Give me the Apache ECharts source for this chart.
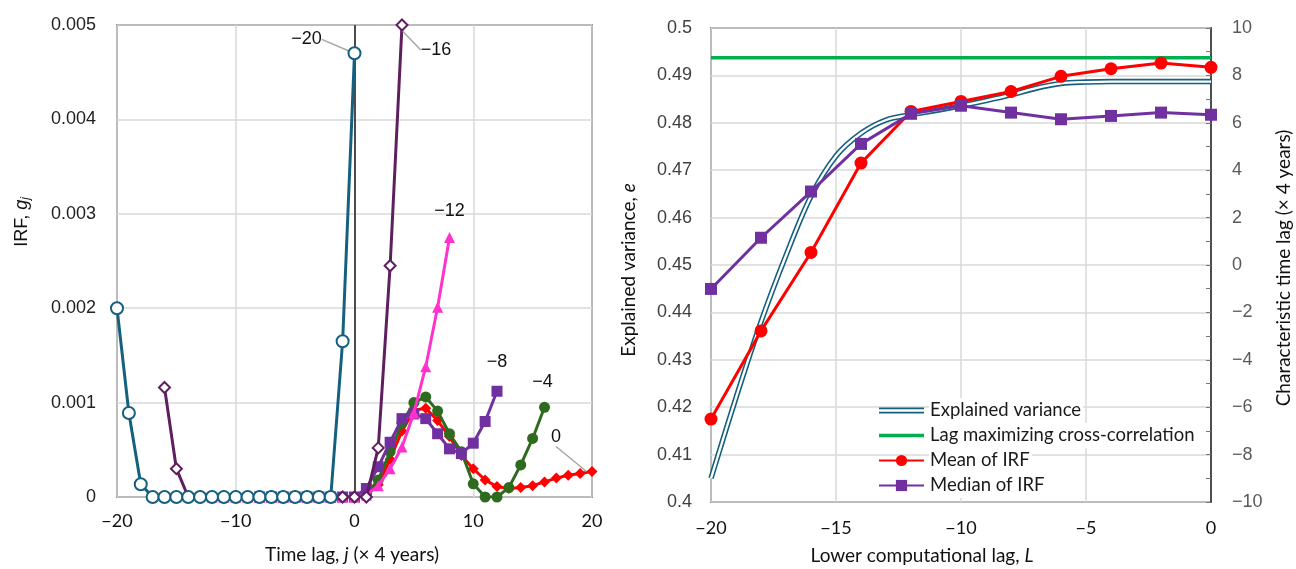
<!DOCTYPE html>
<html>
<head>
<meta charset="utf-8">
<script src="https://cdn.jsdelivr.net/npm/echarts@6/dist/echarts.min.js"></script>
<style>
html,body{margin:0;padding:0;background:#fff;}
#c{width:1296px;height:569px;}
</style>
</head>
<body>
<div id="c"></div>
<script>
// ---------- Left panel data: IRF g_j for each lower computational lag L ----------
const lowerLags = [-20, -16, -12, -8, -4, 0];
const irfLm20 = [0.0020, 0.00089, 0.000135, 0, 0, 0, 0, 0, 0, 0, 0, 0, 0, 0, 0, 0, 0, 0, 0, 0.00165, 0.0047];
const irfLm16 = [0.00116, 0.0003, 0, 0, 0, 0, 0, 0, 0, 0, 0, 0, 0, 0, 0, 0, 0, 0, 0.00052, 0.00245, 0.005];
const irfLm12 = [0, 0, 0, 0, 0, 0, 0, 0, 0, 0, 0, 0, 0, 0.00002, 0.00012, 0.0003, 0.00053, 0.00089, 0.00138, 0.00201, 0.00275];
const irfLm8  = [0, 0, 0, 0, 0, 0, 0, 0, 0, 0.00009, 0.00032, 0.00058, 0.00083, 0.00088, 0.00083, 0.00067, 0.00051, 0.00046, 0.00057, 0.0008, 0.00112];
const irfLm4  = [0, 0, 0, 0, 0, 0.00003, 0.00018, 0.00048, 0.00078, 0.001, 0.00106, 0.00091, 0.00067, 0.00048, 0.00014, 0, 0, 0.0001, 0.00034, 0.00062, 0.00095];
const irfL0   = [0, 0.00003, 0.00013, 0.0004, 0.0007, 0.00092, 0.00094, 0.00081, 0.00064, 0.00044, 0.0003, 0.00018, 0.00011, 0.00009, 0.0001, 0.00012, 0.00016, 0.0002, 0.00023, 0.00025, 0.00027];
const leftXTicks = [-20, -10, 0, 10, 20];
const leftYTicks = [0, 0.001, 0.002, 0.003, 0.004, 0.005];

// ---------- Right panel data ----------
const evLags = [-20, -19, -18, -17, -16, -15, -14, -13, -12, -11, -10, -9, -8, -7, -6, -5, -4, -3, -2, -1, 0];
const explainedVariance = [0.405, 0.422, 0.438, 0.452, 0.4645, 0.473, 0.4778, 0.4806, 0.4817, 0.4826, 0.4836, 0.4847, 0.4859, 0.4873, 0.4883, 0.4886, 0.4887, 0.4887, 0.4887, 0.4887, 0.4887];
const statLags = [-20, -18, -16, -14, -12, -10, -8, -6, -4, -2, 0];
const meanIRF   = [-6.5, -2.78, 0.53, 4.3, 6.48, 6.9, 7.32, 7.96, 8.28, 8.52, 8.34];
const medianIRF = [-1.01, 1.15, 3.1, 5.11, 6.38, 6.72, 6.43, 6.15, 6.29, 6.43, 6.34];
const xcorrLag = 8.75;
const xcorrRange = [-20, 0];

const MINUS = '\u2212';
const fmtNum = v => String(+v.toFixed(4)).replace('-', MINUS);

const irfSets = [irfLm20, irfLm16, irfLm12, irfLm8, irfLm4, irfL0];
const styles = [
  {color:'#16607f', symbol:'circle', size:12, hollow:true, lab:{dx:-48, dy:-14}, line:true},
  {color:'#5e1f5e', symbol:'diamond', size:11, hollow:true, lab:{dx:34, dy:25}, line:true},
  {color:'#ff33cc', symbol:'triangle', size:11, hollow:false, lab:{dx:0, dy:-26}, line:false},
  {color:'#7030a0', symbol:'rect', size:11, hollow:false, lab:{dx:0, dy:-29}, line:false},
  {color:'#2f6b1f', symbol:'circle', size:11, hollow:false, lab:{dx:-2, dy:-25}, line:false},
  {color:'#ff0000', symbol:'diamond', size:11, hollow:false, lab:{dx:-36, dy:-34}, line:true}
];

const leftSeries = [];
for (let k = irfSets.length - 1; k >= 0; k--) {
  const L = lowerLags[k], st = styles[k], vals = irfSets[k];
  const data = vals.map((v, i) => {
    const item = {value: [L + i, v]};
    if (i === vals.length - 1) {
      item.label = {show: true, formatter: (L === 0 ? '0' : MINUS + Math.abs(L)), position: 'inside',
        color: '#111', fontFamily: 'Liberation Sans', fontSize: 18};
    }
    return item;
  });
  const s = {
    type: 'line', xAxisIndex: 0, yAxisIndex: 0, name: 'L' + L,
    data: data, symbol: st.symbol, symbolSize: st.size, showAllSymbol: true,
    lineStyle: {color: st.color, width: 3},
    itemStyle: st.hollow ? {color: '#fff', borderColor: st.color, borderWidth: 2} : {color: st.color, borderWidth: 0},
    label: {show: false},
    labelLayout: {dx: st.lab.dx, dy: st.lab.dy},
    labelLine: {show: st.line, lineStyle: {color: '#a6a6a6', width: 1.5}, length2: 0},
    emphasis: {disabled: true}, animation: false, z: 3 + (irfSets.length - k)
  };
  if (k === 0) {
    s.markLine = {silent: true, symbol: 'none', animation: false,
      lineStyle: {color: '#1a1a1a', width: 1.5, type: 'solid'}, label: {show: false},
      data: [{xAxis: 0}]};
  }
  leftSeries.push(s);
}

const rightSeries = [
  {type:'line', name:'Explained variance', xAxisIndex:1, yAxisIndex:1, smooth:0.35, symbol:'none',
   data: evLags.map((x,i)=>[x, explainedVariance[i]]), lineStyle:{color:'#16607f', width:5.5}, itemStyle:{color:'#16607f'},
   emphasis:{disabled:true}, z:3},
  {type:'line', name:'ev-inner', xAxisIndex:1, yAxisIndex:1, smooth:0.35, symbol:'none',
   data: evLags.map((x,i)=>[x, explainedVariance[i]]), lineStyle:{color:'#ffffff', width:2.3}, itemStyle:{color:'#fff'},
   emphasis:{disabled:true}, z:4},
  {type:'line', name:'Lag maximizing cross-correlation', xAxisIndex:1, yAxisIndex:2, symbol:'none',
   data: xcorrRange.map(x=>[x, xcorrLag]), lineStyle:{color:'#00b050', width:3.5}, itemStyle:{color:'#00b050'},
   emphasis:{disabled:true}, z:5},
  {type:'line', name:'Mean of IRF', xAxisIndex:1, yAxisIndex:2, symbol:'circle', symbolSize:13,
   data: statLags.map((x,i)=>[x, meanIRF[i]]), lineStyle:{color:'#ff0000', width:3}, itemStyle:{color:'#ff0000'},
   emphasis:{disabled:true}, z:6},
  {type:'line', name:'Median of IRF', xAxisIndex:1, yAxisIndex:2, symbol:'rect', symbolSize:12,
   data: statLags.map((x,i)=>[x, medianIRF[i]]), lineStyle:{color:'#7030a0', width:3}, itemStyle:{color:'#7030a0'},
   emphasis:{disabled:true}, z:7}
];

const gridLine = {show:true, lineStyle:{color:'#d9d9d9', width:1.5}};
const titleFont = 'Lato';

const chart = echarts.init(document.getElementById('c'), null, {renderer:'canvas'});
chart.setOption({
  animation: false,
  backgroundColor: '#fff',
  grid: [
    {left:117, top:25, width:475, height:472, show:true, borderColor:'#3a3a3a', borderWidth:1.5, backgroundColor:'transparent'},
    {left:711, top:28, width:500, height:474, show:true, borderColor:'#3a3a3a', borderWidth:1.5, backgroundColor:'transparent'}
  ],
  xAxis: [
    {type:'value', gridIndex:0, min:leftXTicks[0], max:leftXTicks[leftXTicks.length-1], interval:10,
     axisLine:{show:false}, axisTick:{show:false}, splitLine:gridLine,
     axisLabel:{color:'#111', fontFamily:'Lato', fontSize:18, margin:15, formatter:fmtNum}},
    {type:'value', gridIndex:1, min:-20, max:0, interval:5,
     axisLine:{show:false}, axisTick:{show:false}, splitLine:gridLine,
     axisLabel:{color:'#111', fontFamily:'Lato', fontSize:18, margin:17, formatter:fmtNum}}
  ],
  yAxis: [
    {type:'value', gridIndex:0, min:leftYTicks[0], max:leftYTicks[leftYTicks.length-1], interval:0.001,
     axisLine:{show:false}, axisTick:{show:false}, splitLine:gridLine,
     axisLabel:{color:'#222', fontFamily:'Liberation Sans', fontSize:18, margin:21, formatter:fmtNum}},
    {type:'value', gridIndex:1, min:0.4, max:0.5, interval:0.01,
     axisLine:{show:false}, axisTick:{show:false}, splitLine:gridLine,
     axisLabel:{color:'#404040', fontFamily:'Liberation Sans', fontSize:18, margin:19, formatter:fmtNum}},
    {type:'value', gridIndex:1, position:'right', min:-10, max:10, interval:2,
     axisLine:{show:true, lineStyle:{color:'#2a2a2a', width:1.5}},
     axisTick:{show:true, inside:true, length:5, lineStyle:{color:'#777'}},
     minorTick:{show:true, splitNumber:2, length:5, lineStyle:{color:'#777'}},
     splitLine:{show:false},
     axisLabel:{color:'#595959', fontFamily:'Liberation Sans', fontSize:18, margin:21, formatter:fmtNum}}
  ],
  legend: {
    orient:'vertical', left:878, top:398, itemWidth:45, itemHeight:14, itemGap:0, padding:0,
    data:[
      {name:'Explained variance', icon:'path://M0,0H45V1.7H0Z M0,4.3H45V6H0Z', itemStyle:{color:'#16607f'}},
      {name:'Lag maximizing cross-correlation', icon:'path://M0,0H45V3.5H0Z', itemStyle:{color:'#00b050'}},
      'Mean of IRF', 'Median of IRF'
    ],
    textStyle:{fontFamily:'Lato', fontSize:18.5, color:'#1a1a1a', lineHeight:25, backgroundColor:'#fff', padding:[0,2,0,1]},
    selectedMode:false
  },
  graphic: [
    {type:'text', x:352, y:555, style:{text:'{n|Time lag, }{i|j}{n| (\u00d7 4 years)}', align:'center', verticalAlign:'middle',
      rich:{n:{fontFamily:titleFont, fontSize:19, fill:'#111'}, i:{fontFamily:titleFont, fontStyle:'italic', fontSize:19, fill:'#111'}}}},
    {type:'text', x:22, y:222, rotation:Math.PI/2, style:{text:'{n|IRF, }{i|g}{s|j}', align:'center', verticalAlign:'middle',
      rich:{n:{fontFamily:'Liberation Sans', fontSize:18, fill:'#111'}, i:{fontFamily:'Liberation Sans', fontStyle:'italic', fontSize:18, fill:'#111'},
            s:{fontFamily:'Liberation Sans', fontStyle:'italic', fontSize:12, fill:'#111', padding:[8,0,0,0]}}}},
    {type:'text', x:922, y:556, style:{text:'{n|Lower computational lag, }{i|L}', align:'center', verticalAlign:'middle',
      rich:{n:{fontFamily:titleFont, fontSize:19, fill:'#111'}, i:{fontFamily:titleFont, fontStyle:'italic', fontSize:19, fill:'#111'}}}},
    {type:'text', x:629, y:270, rotation:Math.PI/2, style:{text:'{n|Explained variance, }{i|e}', align:'center', verticalAlign:'middle',
      rich:{n:{fontFamily:titleFont, fontSize:19, fill:'#111'}, i:{fontFamily:titleFont, fontStyle:'italic', fontSize:19, fill:'#111'}}}},
    {type:'text', x:1284, y:268, rotation:Math.PI/2, style:{text:'Characteristic time lag (\u00d7 4 years)', align:'center', verticalAlign:'middle',
      fontFamily:titleFont, fontSize:19, fill:'#111'}}
  ],
  series: leftSeries.concat(rightSeries)
});
</script>
</body>
</html>
